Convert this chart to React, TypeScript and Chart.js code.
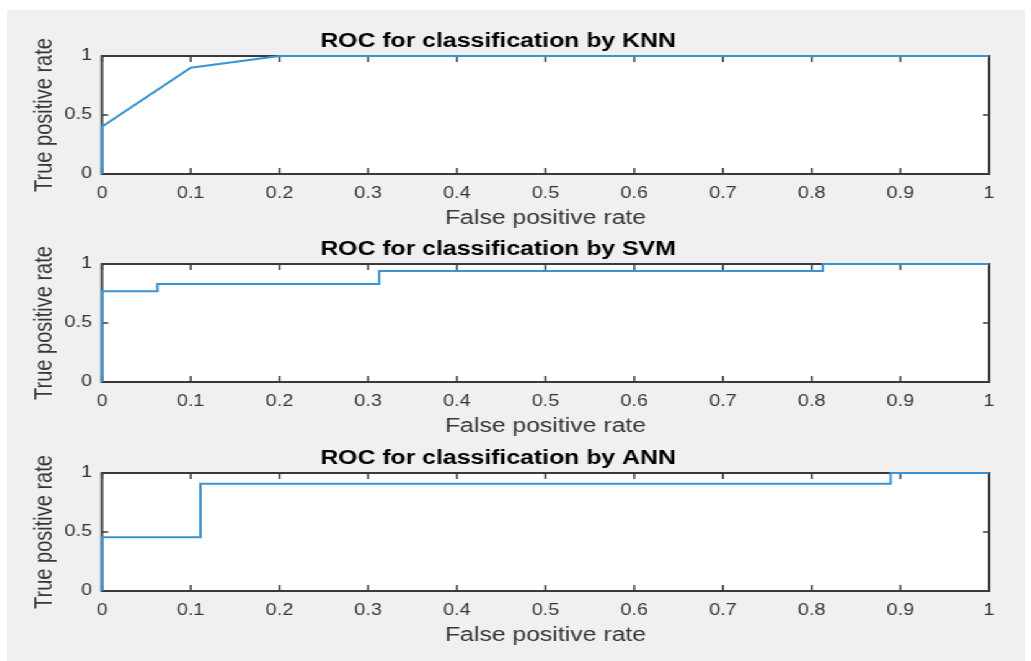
import React, { useEffect, useRef } from 'react';
import { Chart, registerables } from 'chart.js';

Chart.register(...registerables);

// ---- Data ----
const knnFpr = [0, 0, 0.1, 0.2, 1];
const knnTpr = [0, 0.4, 0.9, 1, 1];

const svmFpr = [0, 0, 0.0625, 0.0625, 0.3125, 0.3125, 0.8125, 0.8125, 1];
const svmTpr = [0, 0.77, 0.77, 0.83, 0.83, 0.94, 0.94, 1, 1];

const annFpr = [0, 0, 0.111, 0.111, 0.889, 0.889, 1];
const annTpr = [0, 0.455, 0.455, 0.909, 0.909, 1, 1];

const xTicks = [0, 0.1, 0.2, 0.3, 0.4, 0.5, 0.6, 0.7, 0.8, 0.9, 1];
const xTickLabels = ['0', '0.1', '0.2', '0.3', '0.4', '0.5', '0.6', '0.7', '0.8', '0.9', '1'];
const yTicks = [0, 0.5, 1];
const yTickLabels = ['0', '0.5', '1'];

const plotTitles = [
  'ROC for classification by KNN',
  'ROC for classification by SVM',
  'ROC for classification by ANN',
];
const xAxisTitle = 'False positive rate';
const yAxisTitle = 'True positive rate';

// ---- Styling ----
const FONT = '"Liberation Sans", Arial, Helvetica, sans-serif';
const LINE_COLOR = 'rgb(58,148,212)';
const TEXT_COLOR = '#363636';
const BOX_COLOR = '#3a3a3a';
const STRETCH = 1.24;
const INNER_W = 821;
const CANVAS_H = 212;

const boxPlugin = {
  id: 'matlabBox',
  beforeDraw(chart: any) {
    const { ctx, chartArea: a } = chart;
    ctx.save();
    ctx.fillStyle = '#ffffff';
    ctx.fillRect(a.left, a.top, a.right - a.left, a.bottom - a.top);
    ctx.restore();
  },
  beforeDatasetsDraw(chart: any) {
    const { ctx, chartArea: a } = chart;
    const xs = chart.scales.x;
    const ys = chart.scales.y;
    ctx.save();
    ctx.strokeStyle = BOX_COLOR;
    ctx.lineWidth = 1.5;
    ctx.beginPath();
    xs.ticks.forEach((t: any) => {
      const px = xs.getPixelForValue(t.value);
      ctx.moveTo(px, a.bottom);
      ctx.lineTo(px, a.bottom - 6);
      ctx.moveTo(px, a.top);
      ctx.lineTo(px, a.top + 6);
    });
    ys.ticks.forEach((t: any) => {
      const py = ys.getPixelForValue(t.value);
      ctx.moveTo(a.left, py);
      ctx.lineTo(a.left + 5, py);
      ctx.moveTo(a.right, py);
      ctx.lineTo(a.right - 5, py);
    });
    ctx.stroke();
    ctx.lineWidth = 2;
    ctx.strokeRect(a.left, a.top, a.right - a.left, a.bottom - a.top);
    ctx.restore();
  },
};

function RocPlot({ title, fpr, tpr, top }: { title: string; fpr: number[]; tpr: number[]; top: number }) {
  const ref = useRef<HTMLCanvasElement>(null);
  useEffect(() => {
    if (!ref.current) return;
    const chart = new Chart(ref.current, {
      type: 'line',
      data: {
        datasets: [
          {
            data: fpr.map((x, i) => ({ x, y: tpr[i] })),
            borderColor: LINE_COLOR,
            borderWidth: 2,
            pointRadius: 0,
            fill: false,
            tension: 0,
            clip: 4,
          },
        ],
      },
      options: {
        animation: false,
        responsive: false,
        maintainAspectRatio: false,
        layout: { padding: { left: 0, right: 29, top: 0, bottom: 0 } },
        plugins: {
          legend: { display: false },
          tooltip: { enabled: false },
          title: {
            display: true,
            text: title,
            color: '#000000',
            font: { family: FONT, size: 20, weight: 'bold' },
            padding: { top: 11, bottom: 3 },
          },
        },
        scales: {
          x: {
            type: 'linear',
            min: 0,
            max: 1,
            grid: { display: false, drawTicks: false },
            border: { display: false },
            afterBuildTicks: (s: any) => {
              s.ticks = xTicks.map((v) => ({ value: v }));
            },
            afterFit: (s: any) => {
              s.height = 56;
            },
            ticks: {
              callback: (_v: any, i: number) => xTickLabels[i],
              color: TEXT_COLOR,
              font: { family: FONT, size: 16 },
              padding: 10,
              maxRotation: 0,
              autoSkip: false,
            },
            title: {
              display: true,
              text: xAxisTitle,
              color: TEXT_COLOR,
              font: { family: FONT, size: 20 },
              padding: { top: 0, bottom: 0 },
            },
          },
          y: {
            type: 'linear',
            min: 0,
            max: 1,
            grid: { display: false, drawTicks: false },
            border: { display: false },
            afterBuildTicks: (s: any) => {
              s.ticks = yTicks.map((v) => ({ value: v }));
            },
            afterFit: (s: any) => {
              s.width = 76.6;
            },
            ticks: {
              callback: (_v: any, i: number) => yTickLabels[i],
              color: TEXT_COLOR,
              font: { family: FONT, size: 16 },
              padding: 8,
            },
            title: {
              display: true,
              text: yAxisTitle,
              color: TEXT_COLOR,
              font: { family: FONT, size: 20 },
              padding: { top: 18, bottom: 0 },
            },
          },
        },
      } as any,
      plugins: [boxPlugin],
    });
    return () => chart.destroy();
  }, [title, fpr, tpr]);
  return (
    <canvas
      ref={ref}
      width={INNER_W}
      height={CANVAS_H}
      style={{ position: 'absolute', left: 0, top, width: INNER_W, height: CANVAS_H }}
    />
  );
}

export default function App() {
  return (
    <div
      style={{
        position: 'absolute',
        left: 7,
        top: 10,
        width: INNER_W,
        height: 651,
        background: '#f0f0f0',
        transform: `scaleX(${STRETCH})`,
        transformOrigin: '0 0',
        overflow: 'hidden',
      }}
    >
      <RocPlot title={plotTitles[0]} fpr={knnFpr} tpr={knnTpr} top={8} />
      <RocPlot title={plotTitles[1]} fpr={svmFpr} tpr={svmTpr} top={216} />
      <RocPlot title={plotTitles[2]} fpr={annFpr} tpr={annTpr} top={425} />
    </div>
  );
}
